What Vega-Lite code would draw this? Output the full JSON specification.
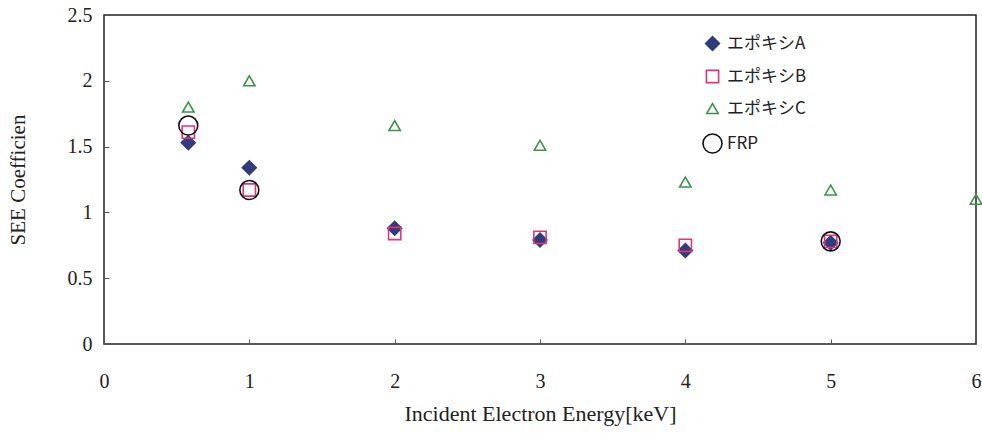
{
  "$schema": "https://vega.github.io/schema/vega-lite/v6.json",
  "width": 872,
  "height": 329,
  "autosize": {"type": "none"},
  "padding": {"left": 104, "top": 15, "right": 6, "bottom": 90},
  "background": "white",
  "config": {
    "view": {"stroke": "#222", "strokeWidth": 1.5},
    "axis": {"grid": false, "domain": false, "ticks": true, "tickColor": "#555", "tickSize": -5, "labelFont": "Liberation Serif", "labelFontSize": 20, "labelColor": "#222", "titleFont": "Liberation Serif", "titleFontWeight": "normal", "titleColor": "#222"}
  },
  "data": {
    "values": [
      {"s": "エポキシA", "x": 0.58, "y": 1.53},
      {"s": "エポキシA", "x": 1, "y": 1.34},
      {"s": "エポキシA", "x": 2, "y": 0.88},
      {"s": "エポキシA", "x": 3, "y": 0.79},
      {"s": "エポキシA", "x": 4, "y": 0.71},
      {"s": "エポキシA", "x": 5, "y": 0.77},
      {"s": "エポキシB", "x": 0.58, "y": 1.61},
      {"s": "エポキシB", "x": 1, "y": 1.17},
      {"s": "エポキシB", "x": 2, "y": 0.84},
      {"s": "エポキシB", "x": 3, "y": 0.81},
      {"s": "エポキシB", "x": 4, "y": 0.75},
      {"s": "エポキシB", "x": 5, "y": 0.78},
      {"s": "エポキシC", "x": 0.58, "y": 1.80},
      {"s": "エポキシC", "x": 1, "y": 2.0},
      {"s": "エポキシC", "x": 2, "y": 1.66},
      {"s": "エポキシC", "x": 3, "y": 1.51},
      {"s": "エポキシC", "x": 4, "y": 1.23},
      {"s": "エポキシC", "x": 5, "y": 1.17},
      {"s": "エポキシC", "x": 6, "y": 1.10},
      {"s": "FRP", "x": 0.58, "y": 1.66},
      {"s": "FRP", "x": 1, "y": 1.17},
      {"s": "FRP", "x": 5, "y": 0.78}
    ]
  },
  "mark": {"type": "point", "strokeWidth": 1.6, "opacity": 1},
  "encoding": {
    "x": {"field": "x", "type": "quantitative", "scale": {"domain": [0, 6], "nice": false, "zero": false}, "axis": {"values": [0, 1, 2, 3, 4, 5, 6], "format": "~g", "labelPadding": 32, "title": "Incident Electron Energy[keV]", "titleFontSize": 22, "titlePadding": 12, "labelFlush": false}},
    "y": {"field": "y", "type": "quantitative", "scale": {"domain": [0, 2.5], "nice": false}, "axis": {"values": [0, 0.5, 1, 1.5, 2, 2.5], "format": "~g", "labelPadding": 17, "title": "SEE Coefficien", "titleFontSize": 21, "titlePadding": 39, "labelFlush": false}},
    "shape": {"field": "s", "type": "nominal", "scale": {"domain": ["エポキシA", "エポキシB", "エポキシC", "FRP"], "range": ["diamond", "square", "triangle-up", "circle"]},
      "legend": {"title": null, "orient": "none", "legendX": 598, "legendY": 20, "labelFont": "Noto Sans CJK JP", "labelFontSize": 17, "labelColor": "#222", "rowPadding": 13, "symbolStrokeWidth": 1.6, "labelOffset": 4,
        "encode": {"symbols": {"update": {"size": {"value": 150}}}}}},
    "color": {"field": "s", "type": "nominal", "scale": {"domain": ["エポキシA", "エポキシB", "エポキシC", "FRP"], "range": ["#2F3D7C", "#E0357A", "#3E9446", "#111111"]}},
    "fill": {"field": "s", "type": "nominal", "scale": {"domain": ["エポキシA", "エポキシB", "エポキシC", "FRP"], "range": ["#2F3D7C", "transparent", "transparent", "transparent"]}},
    "size": {"field": "s", "type": "nominal", "scale": {"type": "ordinal", "domain": ["エポキシA", "エポキシB", "エポキシC", "FRP"], "range": [190, 150, 130, 360]}}
  }
}
